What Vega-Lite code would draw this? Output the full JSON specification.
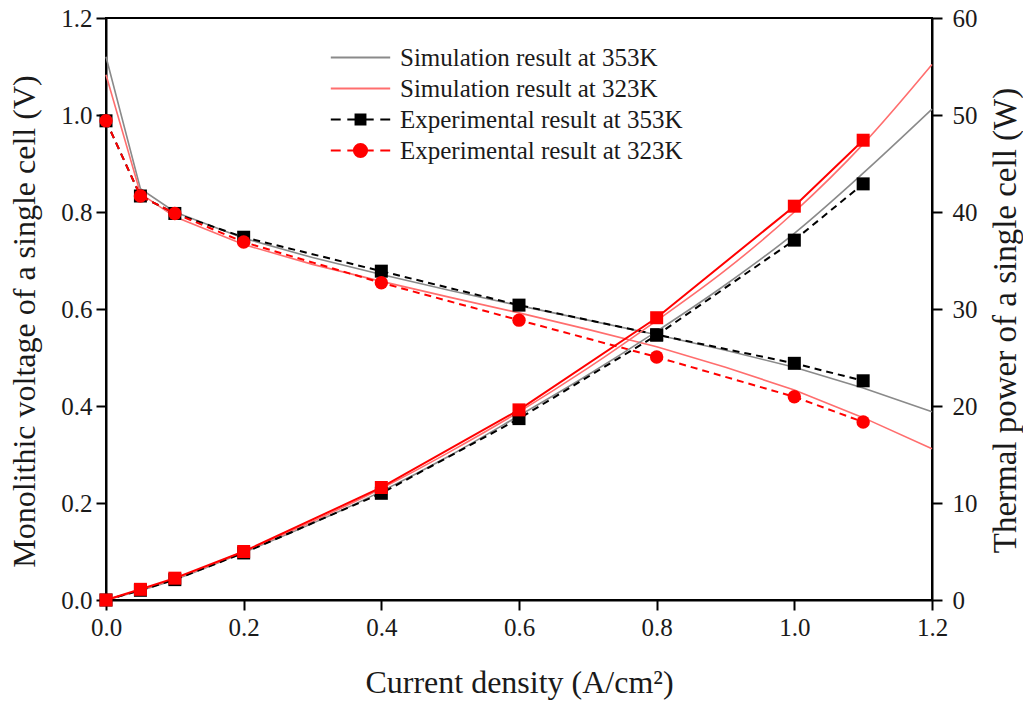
{
  "$schema": "https://vega.github.io/schema/vega-lite/v6.json",
  "width": 826,
  "height": 582,
  "autosize": {"type": "none"},
  "padding": {"left": 106, "top": 18, "right": 91, "bottom": 104},
  "background": "white",
  "config": {
    "font": "Liberation Serif",
    "view": {"stroke": "black", "strokeWidth": 2},
    "axis": {
      "domainColor": "black", "domainWidth": 2, "tickColor": "black", "tickWidth": 2, "tickSize": 10,
      "labelFont": "Liberation Serif", "labelFontSize": 25, "labelColor": "#1a1a1a",
      "titleFont": "Liberation Serif", "titleFontSize": 32, "titleFontWeight": "normal", "titleColor": "#1a1a1a",
      "grid": false, "labelFlush": false
    }
  },
  "data": {"values": [
    {"s": "Simulation result at 353K", "q": "V", "x": 0, "y": 1.12},
    {"s": "Simulation result at 353K", "q": "V", "x": 0.05, "y": 0.848},
    {"s": "Simulation result at 353K", "q": "V", "x": 0.1, "y": 0.8},
    {"s": "Simulation result at 353K", "q": "V", "x": 0.2, "y": 0.746},
    {"s": "Simulation result at 353K", "q": "V", "x": 0.3, "y": 0.706},
    {"s": "Simulation result at 353K", "q": "V", "x": 0.4, "y": 0.671},
    {"s": "Simulation result at 353K", "q": "V", "x": 0.5, "y": 0.638},
    {"s": "Simulation result at 353K", "q": "V", "x": 0.6, "y": 0.607},
    {"s": "Simulation result at 353K", "q": "V", "x": 0.7, "y": 0.577},
    {"s": "Simulation result at 353K", "q": "V", "x": 0.8, "y": 0.547},
    {"s": "Simulation result at 353K", "q": "V", "x": 0.9, "y": 0.515},
    {"s": "Simulation result at 353K", "q": "V", "x": 1.0, "y": 0.48},
    {"s": "Simulation result at 353K", "q": "V", "x": 1.1, "y": 0.437},
    {"s": "Simulation result at 353K", "q": "V", "x": 1.2, "y": 0.388},
    {"s": "Simulation result at 323K", "q": "V", "x": 0, "y": 1.083},
    {"s": "Simulation result at 323K", "q": "V", "x": 0.05, "y": 0.838},
    {"s": "Simulation result at 323K", "q": "V", "x": 0.1, "y": 0.79},
    {"s": "Simulation result at 323K", "q": "V", "x": 0.2, "y": 0.733},
    {"s": "Simulation result at 323K", "q": "V", "x": 0.3, "y": 0.692},
    {"s": "Simulation result at 323K", "q": "V", "x": 0.4, "y": 0.657},
    {"s": "Simulation result at 323K", "q": "V", "x": 0.5, "y": 0.624},
    {"s": "Simulation result at 323K", "q": "V", "x": 0.6, "y": 0.592},
    {"s": "Simulation result at 323K", "q": "V", "x": 0.7, "y": 0.558},
    {"s": "Simulation result at 323K", "q": "V", "x": 0.8, "y": 0.522},
    {"s": "Simulation result at 323K", "q": "V", "x": 0.9, "y": 0.48},
    {"s": "Simulation result at 323K", "q": "V", "x": 1.0, "y": 0.433},
    {"s": "Simulation result at 323K", "q": "V", "x": 1.1, "y": 0.376},
    {"s": "Simulation result at 323K", "q": "V", "x": 1.2, "y": 0.312},
    {"s": "Experimental result at 353K", "q": "V", "x": 0, "y": 0.988},
    {"s": "Experimental result at 353K", "q": "V", "x": 0.05, "y": 0.833},
    {"s": "Experimental result at 353K", "q": "V", "x": 0.1, "y": 0.797},
    {"s": "Experimental result at 353K", "q": "V", "x": 0.2, "y": 0.748},
    {"s": "Experimental result at 353K", "q": "V", "x": 0.4, "y": 0.678},
    {"s": "Experimental result at 353K", "q": "V", "x": 0.6, "y": 0.608},
    {"s": "Experimental result at 353K", "q": "V", "x": 0.8, "y": 0.547},
    {"s": "Experimental result at 353K", "q": "V", "x": 1.0, "y": 0.488},
    {"s": "Experimental result at 353K", "q": "V", "x": 1.1, "y": 0.452},
    {"s": "Experimental result at 323K", "q": "V", "x": 0, "y": 0.988},
    {"s": "Experimental result at 323K", "q": "V", "x": 0.05, "y": 0.833},
    {"s": "Experimental result at 323K", "q": "V", "x": 0.1, "y": 0.797},
    {"s": "Experimental result at 323K", "q": "V", "x": 0.2, "y": 0.738},
    {"s": "Experimental result at 323K", "q": "V", "x": 0.4, "y": 0.654},
    {"s": "Experimental result at 323K", "q": "V", "x": 0.6, "y": 0.577},
    {"s": "Experimental result at 323K", "q": "V", "x": 0.8, "y": 0.501},
    {"s": "Experimental result at 323K", "q": "V", "x": 1.0, "y": 0.419},
    {"s": "Experimental result at 323K", "q": "V", "x": 1.1, "y": 0.367},
    {"s": "Simulation result at 353K", "q": "P", "x": 0, "y": 0},
    {"s": "Simulation result at 353K", "q": "P", "x": 0.1, "y": 2.1},
    {"s": "Simulation result at 353K", "q": "P", "x": 0.2, "y": 4.9},
    {"s": "Simulation result at 353K", "q": "P", "x": 0.3, "y": 7.9},
    {"s": "Simulation result at 353K", "q": "P", "x": 0.4, "y": 11.2},
    {"s": "Simulation result at 353K", "q": "P", "x": 0.5, "y": 14.9},
    {"s": "Simulation result at 353K", "q": "P", "x": 0.6, "y": 19.0},
    {"s": "Simulation result at 353K", "q": "P", "x": 0.7, "y": 23.2},
    {"s": "Simulation result at 353K", "q": "P", "x": 0.8, "y": 27.7},
    {"s": "Simulation result at 353K", "q": "P", "x": 0.9, "y": 32.5},
    {"s": "Simulation result at 353K", "q": "P", "x": 1.0, "y": 37.8},
    {"s": "Simulation result at 353K", "q": "P", "x": 1.1, "y": 44.0},
    {"s": "Simulation result at 353K", "q": "P", "x": 1.2, "y": 50.6},
    {"s": "Simulation result at 323K", "q": "P", "x": 0, "y": 0},
    {"s": "Simulation result at 323K", "q": "P", "x": 0.1, "y": 2.2},
    {"s": "Simulation result at 323K", "q": "P", "x": 0.2, "y": 5.0},
    {"s": "Simulation result at 323K", "q": "P", "x": 0.3, "y": 8.1},
    {"s": "Simulation result at 323K", "q": "P", "x": 0.4, "y": 11.5},
    {"s": "Simulation result at 323K", "q": "P", "x": 0.5, "y": 15.3},
    {"s": "Simulation result at 323K", "q": "P", "x": 0.6, "y": 19.4},
    {"s": "Simulation result at 323K", "q": "P", "x": 0.7, "y": 23.9},
    {"s": "Simulation result at 323K", "q": "P", "x": 0.8, "y": 28.8},
    {"s": "Simulation result at 323K", "q": "P", "x": 0.9, "y": 34.0},
    {"s": "Simulation result at 323K", "q": "P", "x": 1.0, "y": 40.0},
    {"s": "Simulation result at 323K", "q": "P", "x": 1.1, "y": 47.0},
    {"s": "Simulation result at 323K", "q": "P", "x": 1.2, "y": 55.2},
    {"s": "Experimental result at 353K", "q": "P", "x": 0, "y": 0},
    {"s": "Experimental result at 353K", "q": "P", "x": 0.05, "y": 1.0},
    {"s": "Experimental result at 353K", "q": "P", "x": 0.1, "y": 2.1},
    {"s": "Experimental result at 353K", "q": "P", "x": 0.2, "y": 4.85},
    {"s": "Experimental result at 353K", "q": "P", "x": 0.4, "y": 11.0},
    {"s": "Experimental result at 353K", "q": "P", "x": 0.6, "y": 18.7},
    {"s": "Experimental result at 353K", "q": "P", "x": 0.8, "y": 27.3},
    {"s": "Experimental result at 353K", "q": "P", "x": 1.0, "y": 37.1},
    {"s": "Experimental result at 353K", "q": "P", "x": 1.1, "y": 42.9},
    {"s": "Experimental result at 323K", "q": "P", "x": 0, "y": 0},
    {"s": "Experimental result at 323K", "q": "P", "x": 0.05, "y": 1.1},
    {"s": "Experimental result at 323K", "q": "P", "x": 0.1, "y": 2.25},
    {"s": "Experimental result at 323K", "q": "P", "x": 0.2, "y": 5.0},
    {"s": "Experimental result at 323K", "q": "P", "x": 0.4, "y": 11.6},
    {"s": "Experimental result at 323K", "q": "P", "x": 0.6, "y": 19.6},
    {"s": "Experimental result at 323K", "q": "P", "x": 0.8, "y": 29.1},
    {"s": "Experimental result at 323K", "q": "P", "x": 1.0, "y": 40.6},
    {"s": "Experimental result at 323K", "q": "P", "x": 1.1, "y": 47.4}
  ]},
  "encoding": {
    "x": {"field": "x", "type": "quantitative", "scale": {"domain": [0, 1.2], "nice": false},
      "axis": {"values": [0, 0.2, 0.4, 0.6, 0.8, 1.0, 1.2], "format": ".1f", "title": "Current density (A/cm²)", "labelPadding": 5, "titlePadding": 27}},
    "color": {"field": "s", "type": "nominal",
      "scale": {"domain": ["Simulation result at 353K", "Simulation result at 323K", "Experimental result at 353K", "Experimental result at 323K"],
        "range": ["#8a8a8a", "#ff6e6e", "#000000", "#ff0000"]},
      "legend": {
        "orient": "none", "legendX": 242, "legendY": 27, "title": null, "padding": 0,
        "symbolSize": 484, "labelOffset": 27, "rowPadding": 5, "symbolStrokeWidth": 2, "labelLimit": 500,
        "labelFont": "Liberation Serif", "labelFontSize": 25, "labelColor": "#1a1a1a",
        "encode": {"symbols": {"update": {
          "shape": {"signal": "datum.value === 'Experimental result at 353K' ? 'M-2.7,0H-1.8M-1.2,0H1.2M1.8,0H2.7M-0.45,-0.45H0.45V0.45H-0.45Z' : datum.value === 'Experimental result at 323K' ? 'M-2.7,0H-1.8M-1.2,0H1.2M1.8,0H2.7M0.6,0A0.6,0.6,0,1,1,-0.6,0A0.6,0.6,0,1,1,0.6,0Z' : 'M-2.7,0H2.7'"},
          "fill": {"signal": "scale('color', datum.value)"},
          "stroke": {"signal": "scale('color', datum.value)"},
          "strokeWidth": {"value": 2},
          "strokeDash": {"value": []},
          "opacity": {"value": 1},
          "fillOpacity": {"value": 1},
          "strokeOpacity": {"value": 1}
        }}}
      }}
  },
  "layer": [
    {
      "transform": [{"filter": "datum.q === 'V'"}],
      "encoding": {"y": {"field": "y", "type": "quantitative", "scale": {"domain": [0, 1.2], "nice": false},
        "axis": {"orient": "left", "values": [0, 0.2, 0.4, 0.6, 0.8, 1.0, 1.2], "format": ".1f", "title": "Monolithic voltage of a single cell (V)", "labelPadding": 4, "titlePadding": 19, "titleY": 303}}},
      "layer": [
        {"transform": [{"filter": "datum.s === 'Simulation result at 353K' || datum.s === 'Simulation result at 323K'"}],
          "mark": {"type": "line", "strokeWidth": 1.6}},
        {"transform": [{"filter": "datum.s === 'Experimental result at 353K'"}],
          "mark": {"type": "line", "strokeWidth": 2, "strokeDash": [7, 5]}},
        {"transform": [{"filter": "datum.s === 'Experimental result at 353K'"}],
          "mark": {"type": "point", "shape": "square", "filled": true, "size": 169, "opacity": 1}},
        {"transform": [{"filter": "datum.s === 'Experimental result at 323K'"}],
          "mark": {"type": "line", "strokeWidth": 2, "strokeDash": [7, 5]}},
        {"transform": [{"filter": "datum.s === 'Experimental result at 323K'"}],
          "mark": {"type": "point", "shape": "circle", "filled": true, "size": 180, "opacity": 1}}
      ]
    },
    {
      "transform": [{"filter": "datum.q === 'P'"}],
      "encoding": {"y": {"field": "y", "type": "quantitative", "scale": {"domain": [0, 60], "nice": false},
        "axis": {"orient": "right", "values": [0, 10, 20, 30, 40, 50, 60], "format": "d", "title": "Thermal power of a single cell (W)", "labelPadding": 10, "titlePadding": 12, "titleFontSize": 33, "titleAngle": 270, "titleBaseline": "top", "titleY": 302}}},
      "layer": [
        {"transform": [{"filter": "datum.s === 'Simulation result at 353K' || datum.s === 'Simulation result at 323K'"}],
          "mark": {"type": "line", "strokeWidth": 1.6, "interpolate": "monotone"}},
        {"transform": [{"filter": "datum.s === 'Experimental result at 353K'"}],
          "mark": {"type": "line", "strokeWidth": 2, "strokeDash": [7, 5]}},
        {"transform": [{"filter": "datum.s === 'Experimental result at 353K'"}],
          "mark": {"type": "point", "shape": "square", "filled": true, "size": 169, "opacity": 1}},
        {"transform": [{"filter": "datum.s === 'Experimental result at 323K'"}],
          "mark": {"type": "line", "strokeWidth": 2}},
        {"transform": [{"filter": "datum.s === 'Experimental result at 323K'"}],
          "mark": {"type": "point", "shape": "square", "filled": true, "size": 169, "opacity": 1}}
      ]
    }
  ],
  "resolve": {"scale": {"y": "independent"}}
}
